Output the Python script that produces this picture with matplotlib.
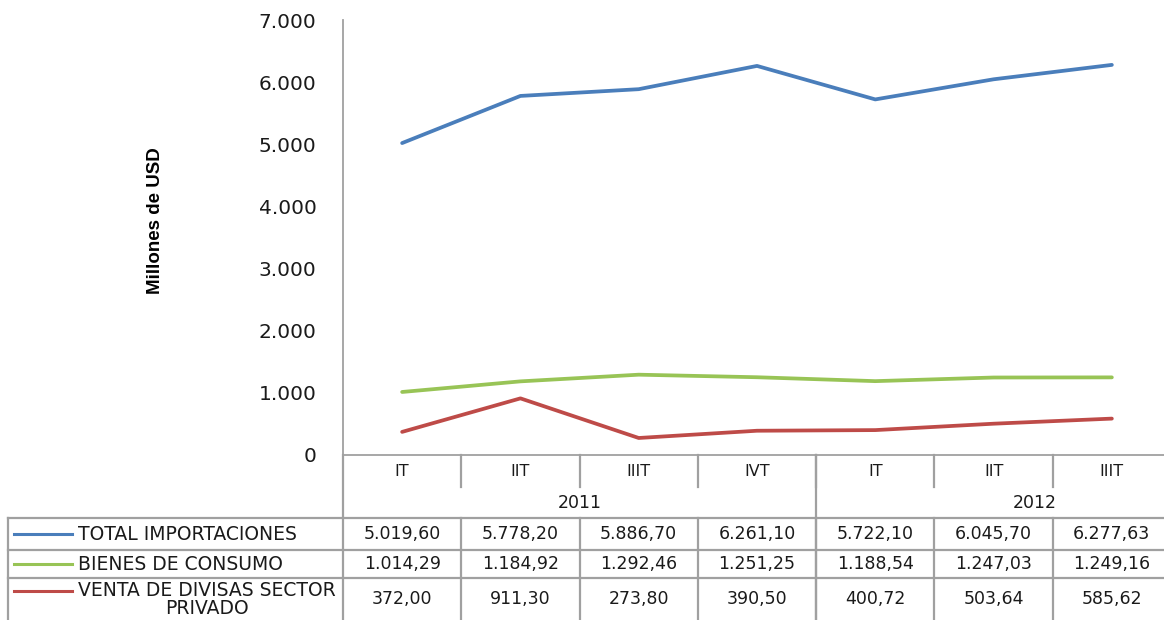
import matplotlib
matplotlib.use("Agg")
import matplotlib.pyplot as plt
import numpy as np

# data
quarters = ["IT", "IIT", "IIIT", "IVT", "IT", "IIT", "IIIT"]
years = ["2011", "2012"]
total_importaciones = [5019.60, 5778.20, 5886.70, 6261.10, 5722.10, 6045.70, 6277.63]
bienes_consumo = [1014.29, 1184.92, 1292.46, 1251.25, 1188.54, 1247.03, 1249.16]
venta_divisas = [372.00, 911.30, 273.80, 390.50, 400.72, 503.64, 585.62]
series_names = ["TOTAL IMPORTACIONES", "BIENES DE CONSUMO", "VENTA DE DIVISAS SECTOR\nPRIVADO"]
colors = ["#4a7ebb", "#98c456", "#be4b48"]
yticks = [0, 1000, 2000, 3000, 4000, 5000, 6000, 7000]


def fmt(v, dec=2):
    s = f"{v:,.{dec}f}"
    return s.replace(",", "X").replace(".", ",").replace("X", ".")


W, H = 1164, 620
fig = plt.figure(figsize=(W / 100, H / 100), dpi=100)
fig.patch.set_facecolor("white")
txt = "#1a1a1a"

x0, x1 = 343, 1171  # plot area in pixels (right side is cut off in original)
ax = fig.add_axes([x0 / W, (H - 455) / H, (x1 - x0) / W, 435 / H])
ax.set_facecolor("none")
xs = np.arange(len(quarters))
for vals, c in zip([total_importaciones, bienes_consumo, venta_divisas], colors):
    ax.plot(xs, vals, color=c, lw=2.7, solid_capstyle="round")
ax.set_xlim(-0.5, 6.5)
ax.set_ylim(0, 7000)
ax.set_yticks(yticks)
ax.set_yticklabels([fmt(t, 0) for t in yticks], fontsize=14.5, color=txt)
ax.tick_params(axis="y", length=0, pad=19)
ax.set_xticks([])
for s in ["top", "right"]:
    ax.spines[s].set_visible(False)
for s in ["left", "bottom"]:
    ax.spines[s].set_color("#a0a0a0")
    ax.spines[s].set_linewidth(1.3)

fig.text(156 / W, 1 - 221 / H, "Millones de USD", rotation=90, ha="center", va="center",
         fontsize=13.5, fontweight="bold", family=["Liberation Sans Narrow", "Liberation Sans", "DejaVu Sans"])

# table area below the plot, sharing the category x scale
tb = fig.add_axes([x0 / W, 0, (x1 - x0) / W, 165 / H])
tb.set_xlim(-0.5, 6.5)
tb.set_ylim(0, 165)
tb.axis("off")
lc = "#a0a0a0"
colw = (x1 - x0) / 7
left = -0.5 - (x0 - 8) / colw
kw = dict(color=lc, lw=1.6, clip_on=False)

# category row
for i, q in enumerate(quarters):
    tb.text(i, 149, q, ha="center", va="center", fontsize=11.5, color=txt)
for i in range(len(quarters) - 1):
    tb.plot([i + 0.5, i + 0.5], [165, 133], **kw)
tb.plot([-0.5, -0.5], [165, 0], **kw)
tb.plot([3.5, 3.5], [165, 0], **kw)
# year row
tb.text(1.5, 117, years[0], ha="center", va="center", fontsize=12.5, color=txt)
tb.text(5.35, 117, years[1], ha="center", va="center", fontsize=12.5, color=txt)

# data table
row_edges = [102, 70, 42, 0]
for y in row_edges[:-1]:
    tb.plot([left, 6.6], [y, y], **kw)
tb.plot([left, left], [102, 0], **kw)
for i in range(len(quarters) - 1):
    tb.plot([i + 0.5, i + 0.5], [102, 0], **kw)

row_vals = [total_importaciones, bienes_consumo, venta_divisas]
lx0 = left + 6 / colw
lx1 = left + 64 / colw
tx = left + 70 / colw
for r, (name, vals, c) in enumerate(zip(series_names, row_vals, colors)):
    yc = (row_edges[r] + row_edges[r + 1]) / 2
    ly = yc if r < 2 else yc + 8
    tb.plot([lx0, lx1], [ly, ly], color=c, lw=2.2, clip_on=False)
    if r < 2:
        tb.text(tx, ly, name, ha="left", va="center", fontsize=13.5,
                color=txt, clip_on=False)
    else:
        tb.text(tx, ly + 10, name, ha="left", va="top", fontsize=13.5,
                color=txt, multialignment="center", linespacing=0.95, clip_on=False)
    for i, v in enumerate(vals):
        tb.text(i, yc, fmt(v), ha="center", va="center", fontsize=12.5, color=txt)

fig.savefig("out.png", dpi=100)
